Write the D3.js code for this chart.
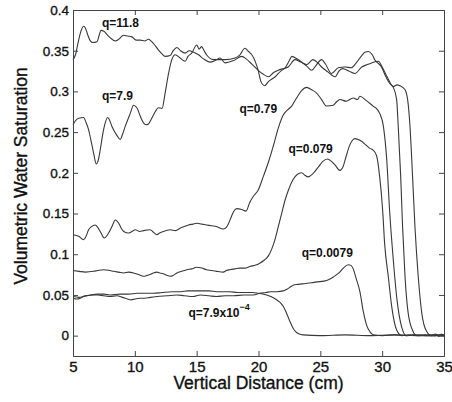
<!DOCTYPE html>
<html>
<head>
<meta charset="utf-8">
<script src="https://cdn.jsdelivr.net/npm/d3@7"></script>
<style>
  body { margin: 0; background: #fff; }
  svg text { font-family: Arial, "Liberation Sans", Helvetica, sans-serif; }
</style>
</head>
<body>
<div class="chart"></div>
<script>
// distance (cm) / saturation, one pair of arrays per flux
var x118 = [5.0,5.2,5.4,5.6,5.86,6.0,6.18,6.4,6.6,6.94,7.1,7.26,7.5,7.74,8.0,8.42,8.7,9.09,9.4,9.76,10.1,10.43,10.8,11.1,11.3,11.5,11.9,12.2,12.45,12.85,13.1,13.4,13.7,14.07,14.4,14.75,15.15,15.55,16.1,16.5,16.9,17.3,18.0,18.65,19.0,19.5,20.3,20.8,21.2,21.6,22.0,22.4,22.95,23.4,23.9,24.4,24.8,25.1,25.6,26.2,26.5,26.8,27.3,27.8,28.35,28.8,29.15,29.7,30.0,30.4,30.9,31.2,31.44,31.85,32.1,32.25,32.46,32.65,32.92,33.2,33.6,34.0,34.3,34.6,34.8,35.0];
var y118 = [0.339,0.345,0.359,0.372,0.380,0.378,0.370,0.362,0.360,0.361,0.368,0.375,0.374,0.370,0.366,0.362,0.364,0.369,0.368,0.367,0.363,0.363,0.362,0.364,0.362,0.359,0.351,0.346,0.343,0.344,0.350,0.354,0.350,0.347,0.350,0.348,0.345,0.340,0.336,0.338,0.341,0.335,0.338,0.343,0.340,0.333,0.322,0.318,0.323,0.326,0.328,0.330,0.339,0.336,0.333,0.339,0.335,0.330,0.324,0.318,0.325,0.328,0.325,0.322,0.330,0.333,0.335,0.337,0.330,0.318,0.306,0.308,0.307,0.302,0.285,0.257,0.195,0.134,0.072,0.028,0.005,0.000,0.002,-0.001,0.002,-0.001];

var x79 = [5.0,5.2,5.46,5.86,6.05,6.26,6.45,6.67,6.88,7.05,7.2,7.4,7.6,7.8,7.95,8.15,8.55,8.82,9.0,9.22,9.63,9.9,10.2,10.4,10.57,10.92,11.1,11.3,11.65,11.9,12.2,12.45,12.7,12.99,13.26,13.66,14.07,14.3,14.6,15.0,15.2,15.4,15.6,15.8,16.35,16.9,17.3,18.1,18.5,18.9,19.2,19.46,19.99,20.2,20.5,20.8,21.35,21.8,22.15,22.5,22.7,23.1,23.5,23.9,24.3,24.7,25.1,25.4,25.9,26.45,27.0,27.5,27.9,28.3,28.6,28.9,29.2,29.4,29.95,30.3,30.6,30.9,31.17,31.3,31.5,31.65,31.85,32.1,32.5,32.8,33.5,34.2,35.0];
var y79 = [0.259,0.264,0.267,0.268,0.262,0.253,0.240,0.224,0.211,0.216,0.228,0.247,0.261,0.268,0.265,0.257,0.246,0.241,0.247,0.257,0.273,0.283,0.279,0.271,0.265,0.259,0.260,0.265,0.275,0.280,0.279,0.298,0.320,0.339,0.345,0.341,0.337,0.343,0.347,0.357,0.352,0.355,0.350,0.345,0.339,0.339,0.339,0.341,0.345,0.353,0.349,0.345,0.325,0.312,0.307,0.312,0.318,0.325,0.329,0.338,0.343,0.340,0.336,0.331,0.326,0.333,0.339,0.334,0.322,0.329,0.330,0.329,0.335,0.343,0.348,0.349,0.345,0.339,0.330,0.318,0.310,0.305,0.290,0.257,0.195,0.134,0.072,0.028,0.005,0.000,0.001,0.000,0.001];

var x079 = [5.0,5.46,5.86,6.05,6.26,6.5,6.8,7.0,7.2,7.53,7.88,8.15,8.42,8.7,8.9,9.1,9.5,10.03,10.4,10.7,11.24,11.5,11.78,12.0,12.3,12.86,13.3,13.66,14.0,14.34,14.7,15.0,15.4,15.8,16.2,16.6,17.16,17.4,17.56,17.8,17.97,18.24,18.64,18.99,19.3,19.58,19.98,20.4,20.8,21.2,21.6,22.0,22.33,22.68,23.08,23.48,23.9,24.3,24.7,25.1,25.5,26.04,26.3,26.58,27.1,27.65,28.0,28.2,28.7,29.27,29.6,29.8,30.1,30.37,30.6,30.9,31.2,31.57,31.95,32.5,33.5,35.0];
var y079 = [0.124,0.122,0.118,0.122,0.130,0.134,0.136,0.133,0.128,0.120,0.126,0.134,0.142,0.138,0.132,0.128,0.126,0.130,0.128,0.129,0.130,0.127,0.124,0.126,0.128,0.130,0.129,0.132,0.134,0.136,0.137,0.138,0.137,0.136,0.135,0.134,0.131,0.133,0.137,0.146,0.152,0.156,0.155,0.153,0.164,0.171,0.179,0.196,0.213,0.233,0.255,0.271,0.277,0.282,0.292,0.301,0.305,0.302,0.298,0.290,0.282,0.283,0.287,0.290,0.288,0.292,0.290,0.294,0.289,0.282,0.278,0.273,0.257,0.216,0.154,0.093,0.044,0.011,0.000,0.001,0.000,0.001];

var x0079 = [5.0,5.5,6.0,6.67,7.0,7.47,8.0,8.28,8.7,9.09,9.5,9.9,10.3,10.7,11.0,11.24,11.5,11.78,12.0,12.3,12.6,12.86,13.1,13.4,13.8,14.2,14.6,15.0,15.4,15.8,16.2,16.6,17.16,17.4,17.7,18.1,18.5,18.9,19.3,19.85,20.1,20.4,20.8,21.06,21.33,21.6,21.87,22.14,22.4,22.76,23.13,23.48,23.75,24.0,24.4,24.83,25.2,25.58,25.9,26.17,26.58,26.85,27.1,27.38,27.6,27.8,28.2,28.7,29.0,29.27,29.55,29.8,30.04,30.2,30.5,30.77,31.17,31.6,32.2,33.0,34.0,35.0];
var y0079 = [0.080,0.079,0.078,0.079,0.080,0.081,0.080,0.079,0.078,0.077,0.078,0.077,0.075,0.073,0.074,0.075,0.077,0.078,0.077,0.076,0.074,0.073,0.074,0.077,0.079,0.081,0.082,0.084,0.083,0.081,0.080,0.079,0.078,0.080,0.081,0.082,0.083,0.083,0.085,0.087,0.089,0.092,0.098,0.106,0.118,0.134,0.150,0.166,0.178,0.191,0.198,0.200,0.197,0.195,0.199,0.207,0.214,0.217,0.214,0.210,0.203,0.208,0.221,0.234,0.240,0.242,0.240,0.234,0.230,0.228,0.221,0.195,0.154,0.113,0.072,0.036,0.007,0.000,0.001,0.000,0.001,0.000];

var x00079 = [5.0,5.3,5.6,5.86,6.13,6.67,7.0,7.47,8.0,8.55,9.0,9.4,9.7,10.0,10.4,10.8,11.24,11.8,12.6,13.4,14.0,14.7,15.3,16.0,16.6,17.3,18.0,18.8,19.6,20.1,20.6,21.0,21.5,22.0,22.3,22.6,22.8,23.2,23.8,24.3,24.7,25.3,25.7,26.05,26.5,26.86,27.26,27.5,27.66,27.9,28.2,28.47,28.74,29.0,29.27,30.0,31.0,32.0,33.0,34.0,35.0];
var y00079 = [0.046,0.045,0.046,0.048,0.049,0.050,0.050,0.049,0.048,0.049,0.047,0.045,0.044,0.045,0.046,0.046,0.047,0.048,0.049,0.050,0.049,0.048,0.050,0.049,0.048,0.049,0.049,0.050,0.050,0.052,0.053,0.054,0.054,0.055,0.057,0.060,0.062,0.063,0.064,0.065,0.066,0.067,0.069,0.072,0.077,0.083,0.087,0.086,0.082,0.070,0.054,0.030,0.013,0.005,0.001,0.000,0.001,0.000,0.001,0.000,0.001];

var x000079 = [5.0,5.5,6.0,6.4,7.0,7.5,8.0,8.8,9.5,10.2,11.0,11.5,12.2,13.0,13.7,14.3,14.75,15.3,16.0,16.6,17.2,17.7,18.3,19.0,19.5,20.0,20.4,20.67,21.0,21.46,21.8,22.0,22.2,22.5,22.8,23.0,23.3,23.6,25.0,27.0,29.0,31.0,33.0,35.0];
var y000079 = [0.048,0.047,0.049,0.050,0.051,0.051,0.050,0.051,0.051,0.052,0.052,0.052,0.053,0.054,0.054,0.055,0.055,0.055,0.055,0.054,0.054,0.054,0.053,0.053,0.053,0.052,0.051,0.050,0.048,0.044,0.040,0.036,0.030,0.019,0.009,0.005,0.002,0.001,0.000,0.001,0.000,0.001,0.000,0.000];

// curve labels: text, anchor point (distance, saturation)
var labelText = ["q=11.8", "q=7.9", "q=0.79", "q=0.079", "q=0.0079", "q=7.9x10"];
var labelX = [7.34, 7.34, 18.46, 22.42, 23.5, 14.34];
var labelY = [0.379, 0.289, 0.274, 0.224, 0.096, 0.023];

var xTicks = [5, 10, 15, 20, 25, 30, 35];
var yTicks = [0, 0.05, 0.1, 0.15, 0.2, 0.25, 0.3, 0.35, 0.4];
var yTickLabels = ["0", "0.05", "0.1", "0.15", "0.2", "0.25", "0.3", "0.35", "0.4"];

var seriesX = [x118, x79, x079, x0079, x00079, x000079];
var seriesY = [y118, y79, y079, y0079, y00079, y000079];

// set the dimensions and margins of the graph
var margin = {top: 10, right: 8, bottom: 46, left: 73},
    width = 452 - margin.left - margin.right,
    height = 402 - margin.top - margin.bottom;

var x = d3.scaleLinear().domain([5, 35]).range([0, width]);
var y = d3.scaleLinear().domain([-0.025, 0.4]).range([height, 0]);

var svg = d3.select(".chart").append("svg")
    .attr("width", 452)
    .attr("height", 402)
  .append("g")
    .attr("transform", "translate(" + margin.left + "," + margin.top + ")");

// curves
var line = d3.line()
    .x(function(d) { return x(d[0]); })
    .y(function(d) { return y(d[1]); })
    .curve(d3.curveMonotoneX);

seriesX.forEach(function(xs, i) {
  var pts = xs.map(function(v, j) { return [v, seriesY[i][j]]; });
  svg.append("path")
    .datum(pts)
    .attr("fill", "none")
    .attr("stroke", "#383838")
    .attr("stroke-width", 1.1)
    .attr("d", line);
});

// axes, ticks pointing inward on all four sides
function styleAxis(size) {
  return function(g) {
    g.select(".domain").attr("stroke", "#444");
    g.selectAll(".tick line").attr("stroke", "#444");
    g.selectAll(".tick text")
      .attr("fill", "#111")
      .attr("stroke", "#111")
      .attr("stroke-width", 0.35)
      .style("font-size", size);
  };
}

svg.append("g")
    .attr("transform", "translate(0," + height + ")")
    .call(d3.axisBottom(x).tickValues(xTicks).tickSize(-5).tickPadding(5))
    .call(styleAxis("15px"));

svg.append("g")
    .call(d3.axisTop(x).tickValues(xTicks).tickSize(-5).tickFormat(""))
    .call(styleAxis("15px"));

svg.append("g")
    .call(d3.axisLeft(y).tickValues(yTicks).tickSize(-5).tickPadding(4)
      .tickFormat(function(d, i) { return yTickLabels[i]; }))
    .call(styleAxis("13.5px"));

svg.append("g")
    .attr("transform", "translate(" + width + ",0)")
    .call(d3.axisRight(y).tickValues(yTicks).tickSize(-5).tickFormat(""))
    .call(styleAxis("13.5px"));

svg.selectAll(".tick text").attr("font-family", null);

// curve labels
labelText.forEach(function(t, i) {
  var txt = svg.append("text")
    .attr("x", x(labelX[i]))
    .attr("y", y(labelY[i]))
    .style("font-size", "12px")
    .style("font-weight", "bold")
    .attr("fill", "#111")
    .text(t);
  if (i == 5) {
    txt.append("tspan")
      .attr("dy", -7)
      .style("font-size", "9px")
      .text("\u22124");
  }
});

// axis titles
svg.append("text")
    .attr("x", width / 2)
    .attr("y", height + 33)
    .style("text-anchor", "middle")
    .style("font-size", "17.5px")
    .attr("fill", "#111")
    .attr("stroke", "#111")
    .attr("stroke-width", 0.35)
    .text("Vertical Distance (cm)");

svg.append("text")
    .attr("transform", "translate(" + (-46) + "," + (height / 2 - 7) + ") rotate(-90)")
    .style("text-anchor", "middle")
    .style("font-size", "17.5px")
    .attr("fill", "#111")
    .attr("stroke", "#111")
    .attr("stroke-width", 0.35)
    .text("Volumetric Water Saturation");
</script>
</body>
</html>
